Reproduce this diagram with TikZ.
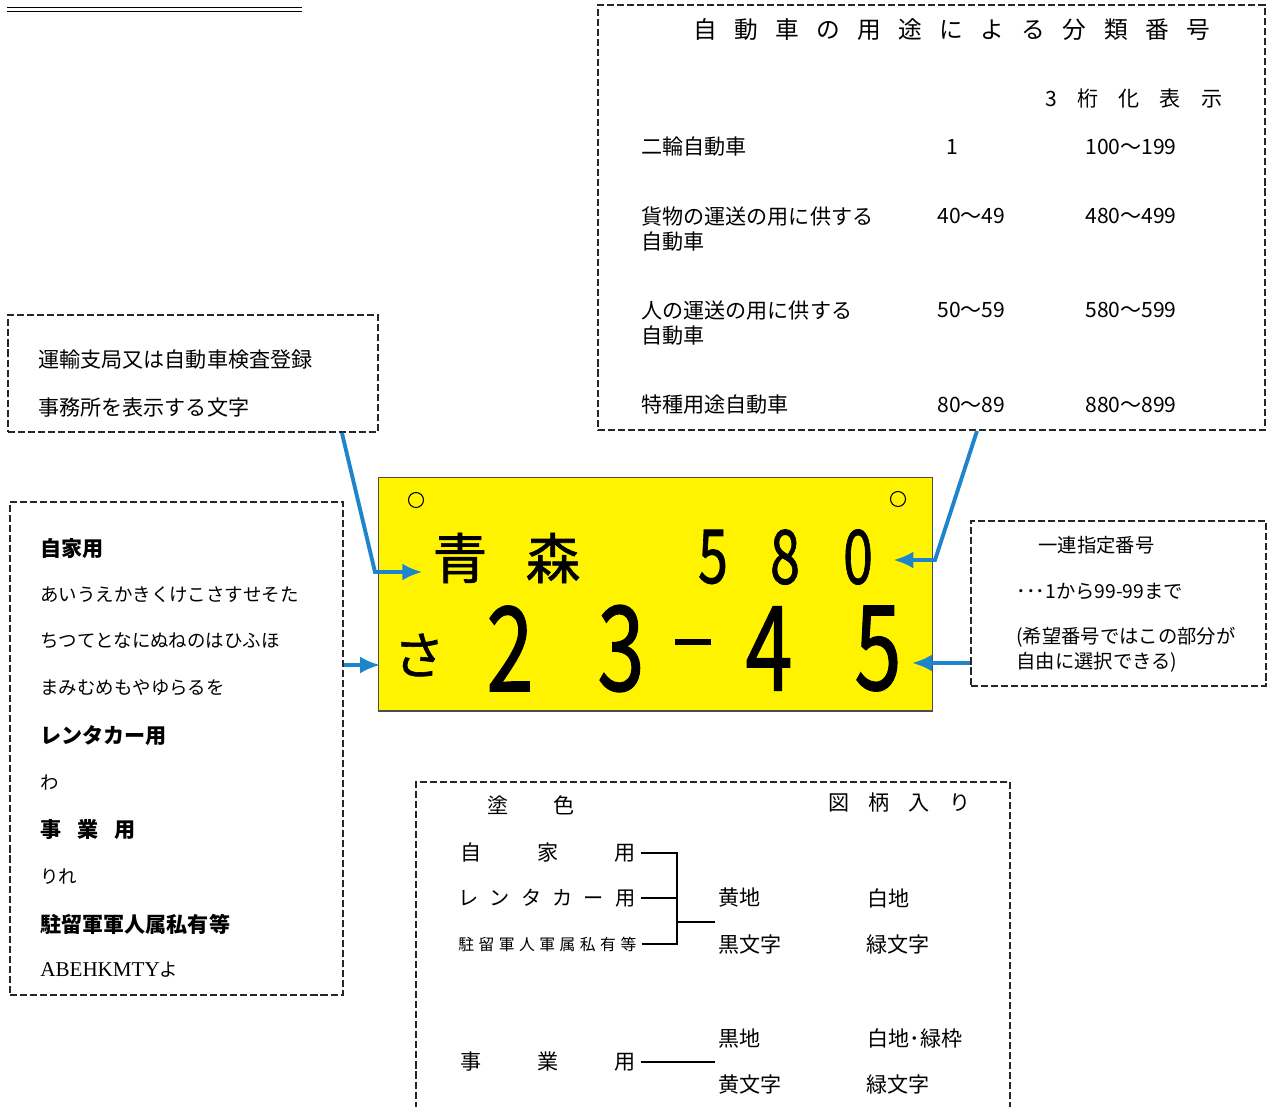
\documentclass[tikz,border=0pt]{standalone}
\usepackage{fontspec}
\usepackage{graphicx}
\setmainfont{Noto Sans CJK JP}
\newfontfamily\latinserif{Liberation Serif}
\newfontfamily\platefont[FakeBold=1.2]{Noto Sans CJK JP}
\usetikzlibrary{arrows.meta,calc}

\definecolor{plateyellow}{RGB}{255,243,0}
\definecolor{callblue}{RGB}{30,132,204}

\newcommand{\spreadtext}[2]{\makebox[#1][s]{#2}}
\newcommand{\narrow}[1]{\scalebox{0.72}[1]{#1}}

\tikzset{
  dbox/.style={draw=black!85, line width=1.1pt, dash pattern=on 4pt off 1.7pt, inner sep=0pt},
  txt/.style={anchor=west, inner sep=0pt, font=\fontsize{12}{14.7}\selectfont},
  smalltxt/.style={txt, font=\fontsize{11}{13}\selectfont},
  kanatxt/.style={txt, font=\fontsize{10.5}{13}\selectfont},
  headtxt/.style={txt, font=\bfseries\fontsize{12}{14}\selectfont},
  callout/.style={draw=callblue, line width=2.2pt, -{Latex[length=0.4cm, width=0.34cm]}},
  joinline/.style={draw=black, line width=0.9pt},
  platechar/.style={inner sep=0pt, font=\platefont\fontsize{31}{34}\selectfont},
  classdigit/.style={inner sep=0pt, font=\platefont\fontsize{42.5}{45}\selectfont},
  bigdigit/.style={inner sep=0pt, font=\platefont\fontsize{67}{70}\selectfont}
}

\begin{document}
\begin{tikzpicture}[x=0.02cm, y=-0.02cm]
    \useasboundingbox (0,0) rectangle (1270,1106);
    \fill[white] (0,0) rectangle (1270,1106);

    % double rule, top left
    \draw[double, double distance=0.07cm, line width=0.7pt] (7,9.5) -- (302,9.5);

    % frames
    \node[dbox, minimum width=13.34cm, minimum height=8.5cm] (classbox) at (931.5,217.5) {};
    \node[dbox, minimum width=7.4cm, minimum height=2.34cm] (regbox) at (193,373.5) {};
    \node[dbox, minimum width=6.66cm, minimum height=9.86cm] (kanabox) at (176.5,748.5) {};
    \node[dbox, minimum width=5.9cm, minimum height=3.3cm] (serbox) at (1118.5,603.5) {};
    \node[dbox, minimum width=11.88cm, minimum height=6.7cm] (colorbox) at (713,949) {};

    % classification numbers
    \node[txt, anchor=center, font=\fontsize{13.5}{16}\selectfont] (title) at (951.5,30)
        {\spreadtext{10.34cm}{自\hfill 動\hfill 車\hfill の\hfill 用\hfill 途\hfill に\hfill よ\hfill る\hfill 分\hfill 類\hfill 番\hfill 号}};
    \node[txt] (keta) at (1045,98) {\spreadtext{3.54cm}{3\hfill 桁\hfill 化\hfill 表\hfill 示}};

    \node[txt] (use1) at (641,147) {二輪自動車};
    \node[txt, align=left] (use2) at (641,229) {貨物の運送の用に供する\\自動車};
    \node[txt, align=left] (use3) at (641,323) {人の運送の用に供する\\自動車};
    \node[txt] (use4) at (641,405) {特種用途自動車};

    \node[txt, anchor=center] (two1) at (952,147) {1};
    \node[txt] (two2) at (937,216) {40〜49};
    \node[txt] (two3) at (937,310) {50〜59};
    \node[txt] (two4) at (937,405) {80〜89};

    \node[txt] (three1) at (1085,147) {100〜199};
    \node[txt] (three2) at (1085,216) {480〜499};
    \node[txt] (three3) at (1085,310) {580〜599};
    \node[txt] (three4) at (1085,405) {880〜899};

    % office
    \node[txt] (reg1) at (38,360) {運輸支局又は自動車検査登録};
    \node[txt] (reg2) at (38,407) {事務所を表示する文字};

    % kana list
    \node[headtxt] (kjika) at (40,549) {自家用};
    \node[kanatxt] (krow1) at (40,595) {あいうえかきくけこさすせそた};
    \node[kanatxt] (krow2) at (40,641) {ちつてとなにぬねのはひふほ};
    \node[kanatxt] (krow3) at (40,688) {まみむめもやゆらるを};
    \node[headtxt] (krent) at (40,736) {レンタカー用};
    \node[kanatxt] (krow4) at (40,783) {わ};
    \node[headtxt] (kjigyo) at (40,830) {\spreadtext{1.9cm}{事\hfill 業\hfill 用}};
    \node[kanatxt] (krow5) at (40,877) {りれ};
    \node[headtxt] (kchuu) at (40,924) {駐留軍軍人属私有等};
    \node[kanatxt] (krow6) at (40,970) {{\latinserif\fontsize{12}{14}\selectfont ABEHKMTY}よ};

    % serial number
    \node[smalltxt] (ser1) at (1038,545) {一連指定番号};
    \node[smalltxt] (ser2) at (1016,591) {･･･1から99-99まで};
    \node[smalltxt] (ser3) at (1016,637) {(希望番号ではこの部分が};
    \node[smalltxt] (ser4) at (1016,662) {自由に選択できる)};

    % plate
    \node[draw=black!70, line width=0.6pt, fill=plateyellow, inner sep=0pt,
          minimum width=11.1cm, minimum height=4.68cm] (plate) at (655.5,594) {};
    \draw[line width=0.6pt] (416,500) circle[radius=7.5];
    \draw[line width=0.6pt] (898,499) circle[radius=7.5];

    \node[platechar] (ao) at (460,558) {青};
    \node[platechar] (mori) at (553,558) {森};
    \foreach \d/\x [count=\i] in {5/713,8/785,0/858}
        \node[classdigit] (cls\i) at (\x,557) {\narrow{\d}};
    \node[platechar, font=\platefont\fontsize{29}{32}\selectfont] (kana) at (419,655) {さ};
    \foreach \d/\x [count=\i] in {2/510,3/621,4/769,5/878}
        \node[bigdigit] (num\i) at (\x,648.5) {\narrow{\d}};
    \node[inner sep=0pt] (dash) at (693,642) {\rule{0.72cm}{0.12cm}};

    % callouts
    \coordinate (k1) at (375,572);
    \draw[callout] ($(regbox.south east)+(-37,0)$) -- (k1) -- ($(k1 -| ao.west)+(-10,0)$);
    \coordinate (k2) at (935,560);
    \draw[callout] ($(classbox.south)+(45.5,0)$) -- (k2) -- ($(k2 -| cls3.east)+(20,0)$);
    \coordinate (a1) at ($(kanabox.east)+(0,-83.5)$);
    \draw[callout] (a1) -- ($(a1 -| kana.west)+(-13,0)$);
    \coordinate (s1) at ($(serbox.west)+(0,59.5)$);
    \draw[callout] (s1) -- ($(s1 -| num4.east)+(10,0)$);

    % colours
    \node[txt, anchor=center] (tosyoku) at (531,805) {\spreadtext{1.76cm}{塗\hfill 色}};
    \node[txt] (zugara) at (828,803) {\spreadtext{2.84cm}{図\hfill 柄\hfill 入\hfill り}};

    \node[txt] (jika) at (460,853) {\spreadtext{3.5cm}{自\hfill 家\hfill 用}};
    \node[txt, font=\fontsize{11.5}{14}\selectfont] (rental) at (458,898)
        {\spreadtext{3.54cm}{レ\hfill ン\hfill タ\hfill カ\hfill ー\hfill 用}};
    \node[txt, font=\fontsize{9}{11}\selectfont] (chuu) at (458,944)
        {\spreadtext{3.56cm}{駐\hfill 留\hfill 軍\hfill 人\hfill 軍\hfill 属\hfill 私\hfill 有\hfill 等}};
    \node[txt] (jigyo) at (460,1062) {\spreadtext{3.5cm}{事\hfill 業\hfill 用}};

    \node[txt] (kiji) at (718,898) {黄地};
    \node[txt] (shiroji) at (867,898) {白地};
    \node[txt] (kuromoji) at (718,944) {黒文字};
    \node[txt] (midorimoji) at (866,944) {緑文字};
    \node[txt] (kuroji) at (718,1038) {黒地};
    \node[txt] (shiromidori) at (867,1038) {白地･緑枠};
    \node[txt] (kimoji) at (718,1084) {黄文字};
    \node[txt] (midorimoji2) at (866,1084) {緑文字};

    \coordinate (brk) at (677,922);
    \draw[joinline] ($(jika.east)+(5,0)$) -| (brk);
    \draw[joinline] ($(rental.east)+(5,0)$) -- (rental.east -| brk);
    \draw[joinline] ($(chuu.east)+(5,0)$) -| (brk) -- ($(brk -| kiji.west)+(-3,0)$);
    \draw[joinline] ($(jigyo.east)+(5,0)$) -- ($(jigyo.east -| kuroji.west)+(-3,0)$);
\end{tikzpicture}
\end{document}
